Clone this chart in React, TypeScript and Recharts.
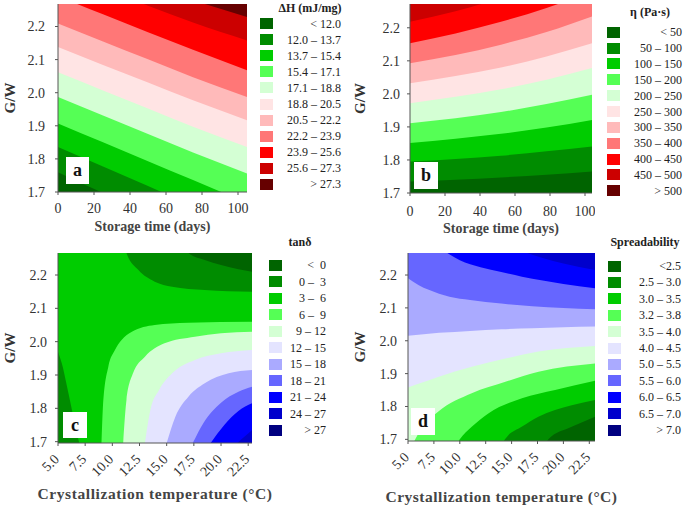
import React from 'react';
import { ComposedChart, Area, XAxis, YAxis, CartesianGrid } from 'recharts';

const serif = '"Liberation Serif", "Times New Roman", serif';

// colour classes, lowest class first
const redScale = ['#006400', '#008c00', '#00cc00', '#55ff55', '#d4ffd4', '#ffe4e4', '#ffbaba', '#ff7777', '#ff0000', '#cc0000', '#660000'];
const blueScale = ['#006400', '#008c00', '#00cc00', '#55ff55', '#d4ffd4', '#e4e4ff', '#aaaaff', '#6666ff', '#0000ff', '#0000cc', '#000080'];

const gwTicks = [1.7, 1.8, 1.9, 2.0, 2.1, 2.2];
const dayTicks = [0, 20, 40, 60, 80, 100];
const tempTicks = [5, 7.5, 10, 12.5, 15, 17.5, 20, 22.5];

// (a) ΔH – contour lines, G/W read at each storage day
const dhLabels = ['< 12.0', '12.0 – 13.7', '13.7 – 15.4', '15.4 – 17.1', '17.1 – 18.8', '18.8 – 20.5', '20.5 – 22.2', '22.2 – 23.9', '23.9 – 25.6', '25.6 – 27.3', '> 27.3'];
const dhDays = [0, 25, 50, 75, 105];
const dh120 = [1.760, 1.697, 1.635, 1.572, 1.497];
const dh137 = [1.836, 1.777, 1.718, 1.659, 1.600];
const dh154 = [1.907, 1.850, 1.793, 1.736, 1.667];
const dh171 = [1.987, 1.931, 1.875, 1.819, 1.756];
const dh188 = [2.062, 2.007, 1.952, 1.897, 1.836];
const dh205 = [2.138, 2.084, 2.031, 1.977, 1.917];
const dh222 = [2.209, 2.155, 2.101, 2.047, 1.987];
const dh239 = [2.291, 2.237, 2.183, 2.130, 2.068];
const dh256 = [2.365, 2.314, 2.263, 2.212, 2.158];
const dh273 = [2.430, 2.380, 2.330, 2.280, 2.229];

// (b) viscosity
const etaLabels = ['< 50', '50 – 100', '100 – 150', '150 – 200', '200 – 250', '250 – 300', '300 – 350', '350 – 400', '400 – 450', '450 – 500', '> 500'];
const etaDays = [0, 26, 52, 78, 104];
const eta50 = [1.735, 1.740, 1.747, 1.755, 1.765];
const eta100 = [1.795, 1.803, 1.813, 1.826, 1.841];
const eta150 = [1.851, 1.864, 1.879, 1.898, 1.921];
const eta200 = [1.911, 1.926, 1.945, 1.969, 1.997];
const eta250 = [1.972, 1.991, 2.014, 2.043, 2.078];
const eta300 = [2.032, 2.054, 2.080, 2.113, 2.153];
const eta350 = [2.093, 2.118, 2.149, 2.187, 2.234];
const eta400 = [2.153, 2.183, 2.218, 2.260, 2.310];
const eta450 = [2.218, 2.250, 2.290, 2.335, 2.380];

// (c) tan δ – each contour has its own temperatures
const tanLabels = ['<  0', '0 –  3', '3 –  6', '6 –  9', '9 – 12', '12 – 15', '15 – 18', '18 – 21', '21 – 24', '24 – 27', '> 27'];
const tan3LowT = [5.0, 5.35, 5.8, 6.25, 6.7, 7.0, 7.3];
const tan3LowG = [1.97, 1.935, 1.87, 1.80, 1.73, 1.69, 1.64];
const tan6T = [9.0, 9.17, 9.63, 10.24, 10.85, 11.8, 13.9, 17.0, 22.85];
const tan6G = [1.696, 1.825, 1.925, 1.975, 2.005, 2.03, 2.05, 2.057, 2.06];
const tan9T = [11.0, 11.3, 11.9, 13.0, 14.8, 17.6, 20.0, 22.85];
const tan9G = [1.696, 1.825, 1.905, 1.955, 1.995, 2.015, 2.025, 2.03];
const tan12T = [13.0, 13.5, 14.3, 15.5, 17.6, 20.0, 22.85];
const tan12G = [1.696, 1.795, 1.855, 1.905, 1.945, 1.965, 1.975];
const tan15T = [15.0, 15.8, 17.0, 18.5, 20.7, 22.85];
const tan15G = [1.696, 1.775, 1.835, 1.875, 1.905, 1.915];
const tan18T = [17.4, 18.4, 20.0, 21.6, 22.85];
const tan18G = [1.696, 1.757, 1.817, 1.850, 1.865];
const tan21T = [19.05, 20.3, 21.6, 22.85];
const tan21G = [1.696, 1.750, 1.792, 1.815];
const tan24T = [21.5, 22.2, 22.85];
const tan24G = [1.696, 1.716, 1.735];
const tan3HighT = [11.0, 11.3, 12.4, 13.9, 15.5, 18.5, 22.85];
const tan3HighG = [2.30, 2.266, 2.215, 2.18, 2.165, 2.155, 2.15];
const tan0T = [16.7, 17.0, 18.5, 20.0, 21.6, 22.85];
const tan0G = [2.29, 2.266, 2.245, 2.23, 2.217, 2.21];

// (d) spreadability
const spLabels = ['<2.5', '2.5 – 3.0', '3.0 – 3.5', '3.2 – 3.8', '3.5 – 4.0', '4.0 – 4.5', '5.0 – 5.5', '5.5 – 6.0', '6.0 – 6.5', '6.5 – 7.0', '> 7.0'];
const sp65T = [15.5, 16.5, 18.0, 20.0, 23.05];
const sp65G = [2.28, 2.267, 2.252, 2.235, 2.215];
const sp60T = [8.0, 8.8, 10.0, 12.0, 14.0, 16.0, 18.0, 20.0, 23.05];
const sp60G = [2.285, 2.267, 2.245, 2.224, 2.209, 2.195, 2.183, 2.173, 2.16];
const sp55T = [5.0, 6.0, 7.0, 9.0, 11.0, 14.0, 17.0, 20.0, 23.05];
const sp55G = [2.19, 2.17, 2.155, 2.134, 2.124, 2.113, 2.105, 2.10, 2.096];
const sp50T = [5.0, 8.0, 11.0, 14.0, 17.0, 20.0, 23.05];
const sp50G = [2.015, 2.024, 2.030, 2.035, 2.038, 2.041, 2.043];
const sp40T = [5.0, 6.3, 7.9, 11.15, 14.4, 17.6, 23.05];
const sp40G = [1.858, 1.872, 1.89, 1.921, 1.946, 1.967, 1.984];
const sp38T = [5.0, 5.7, 6.6, 7.9, 11.15, 14.4, 17.6, 23.05];
const sp38G = [1.65, 1.70, 1.745, 1.784, 1.84, 1.875, 1.906, 1.931];
const sp35T = [9.6, 10.0, 11.15, 12.75, 16.0, 19.2, 23.05];
const sp35G = [1.68, 1.70, 1.738, 1.779, 1.825, 1.85, 1.878];
const sp30T = [14.0, 14.36, 15.97, 17.58, 20.8, 23.05];
const sp30G = [1.68, 1.70, 1.738, 1.769, 1.804, 1.82];
const sp25T = [18.2, 18.55, 20.8, 23.05];
const sp25G = [1.68, 1.70, 1.738, 1.769];

type Contour = { xs: number[]; ys: number[]; fill: string; up?: boolean };

const dhContours: Contour[] = [dh120, dh137, dh154, dh171, dh188, dh205, dh222, dh239, dh256, dh273]
  .map((ys, i) => ({ xs: dhDays, ys, fill: redScale[i + 1], up: true }));
const etaContours: Contour[] = [eta50, eta100, eta150, eta200, eta250, eta300, eta350, eta400, eta450]
  .map((ys, i) => ({ xs: etaDays, ys, fill: redScale[i + 1], up: true }));
const tanContours: Contour[] = [
  { xs: tan3LowT, ys: tan3LowG, fill: blueScale[1] },
  { xs: tan6T, ys: tan6G, fill: blueScale[3] },
  { xs: tan9T, ys: tan9G, fill: blueScale[4] },
  { xs: tan12T, ys: tan12G, fill: blueScale[5] },
  { xs: tan15T, ys: tan15G, fill: blueScale[6] },
  { xs: tan18T, ys: tan18G, fill: blueScale[7] },
  { xs: tan21T, ys: tan21G, fill: blueScale[8] },
  { xs: tan24T, ys: tan24G, fill: blueScale[9] },
  { xs: tan3HighT, ys: tan3HighG, fill: blueScale[1], up: true },
  { xs: tan0T, ys: tan0G, fill: blueScale[0], up: true },
];
const spContours: Contour[] = [
  { xs: sp50T, ys: sp50G, fill: blueScale[6], up: true },
  { xs: sp55T, ys: sp55G, fill: blueScale[7], up: true },
  { xs: sp60T, ys: sp60G, fill: blueScale[8], up: true },
  { xs: sp65T, ys: sp65G, fill: blueScale[9], up: true },
  { xs: sp40T, ys: sp40G, fill: blueScale[4] },
  { xs: sp38T, ys: sp38G, fill: blueScale[3] },
  { xs: sp35T, ys: sp35G, fill: blueScale[2] },
  { xs: sp30T, ys: sp30G, fill: blueScale[1] },
  { xs: sp25T, ys: sp25G, fill: blueScale[0] },
];

const tickStyle = { fontFamily: serif, fontSize: 14, fill: '#333' };
const titleStyle = { fontFamily: serif, fontWeight: 'bold', fill: '#444', textAnchor: 'middle' } as any;

function SlantTick(props: any) {
  const { x, y, payload } = props;
  return (
    <g transform={`translate(${x - 1.5},${y + 8.5})`}>
      <text textAnchor="end" transform="rotate(-45)" dy="0.35em" style={tickStyle}>
        {Number(payload.value).toFixed(1)}
      </text>
    </g>
  );
}

function Panel(p: any) {
  const axisLine = { stroke: '#555' };
  return (
    <div style={{ position: 'absolute', left: p.left, top: p.top }}>
      <ComposedChart width={p.width} height={p.height} margin={{ top: 4, right: p.right ?? 3, left: 0, bottom: 0 }}>
        <CartesianGrid horizontal={false} vertical={false} fill={p.ground} fillOpacity={1} />
        {p.contours.map((c: Contour, i: number) => (
          <Area
            key={i}
            data={c.xs.map((x, j) => ({ x, y: c.ys[j] }))}
            dataKey="y"
            type="monotone"
            fill={c.fill}
            fillOpacity={1}
            stroke="none"
            {...(c.up ? { baseValue: 'dataMax' } : {})}
            dot={false}
            activeDot={false}
            isAnimationActive={false}
          />
        ))}
        <XAxis
          type="number" dataKey="x" domain={p.xDomain} allowDataOverflow ticks={p.xTicks} interval={0}
          height={p.xAxisHeight} axisLine={axisLine} tickLine={{ stroke: '#555' }} tickSize={3}
          tickMargin={p.slant ? 2 : p.xTickMargin}
          tick={p.slant ? <SlantTick /> : tickStyle}
          label={{ value: p.xTitle, position: 'insideBottom', offset: p.titleOffset, style: { ...titleStyle, fontSize: p.titleSize, letterSpacing: p.titleSpacing ?? 0 } }}
        />
        <XAxis xAxisId="top" orientation="top" type="number" domain={p.xDomain} allowDataOverflow height={0} tick={false} tickLine={false} axisLine={axisLine} />
        <YAxis
          type="number" domain={p.yDomain} allowDataOverflow ticks={gwTicks} interval={0} width={58}
          axisLine={axisLine} tickLine={{ stroke: '#555' }} tickSize={3} tickMargin={p.yTickMargin}
          tick={tickStyle} tickFormatter={(v: number) => v.toFixed(1)}
          label={{ value: 'G/W', angle: -90, position: 'insideLeft', offset: p.gwOffset, style: { ...titleStyle, fill: '#333', fontSize: 15 } }}
        />
        <YAxis yAxisId="right" orientation="right" type="number" domain={p.yDomain} allowDataOverflow width={0} tick={false} tickLine={false} axisLine={axisLine} />
      </ComposedChart>
    </div>
  );
}

function Key(p: any) {
  return (
    <>
      <div style={{ position: 'absolute', left: p.titleX - 60, top: p.titleY - 8, width: 120, textAlign: 'center', fontFamily: serif, fontWeight: 'bold', fontSize: 12, lineHeight: '16px', color: '#222' }}>
        {p.title}
      </div>
      {p.labels.map((lab: string, i: number) => {
        const cy = p.firstY + i * p.step;
        return (
          <React.Fragment key={i}>
            <div style={{ position: 'absolute', left: p.swatchX, top: cy - 5.5, width: 13, height: 11, background: p.colours[i] }} />
            <div style={{ position: 'absolute', left: p.textRight - 80, top: cy - 8, width: 80, textAlign: 'right', fontFamily: serif, fontSize: 12, lineHeight: '16px', color: '#222', whiteSpace: 'pre' }}>
              {lab}
            </div>
          </React.Fragment>
        );
      })}
    </>
  );
}

function Tag({ left, top, w, h, text }: any) {
  return (
    <div style={{ position: 'absolute', left, top, width: w, height: h, background: '#fff', fontFamily: serif, fontWeight: 'bold', fontSize: 18, lineHeight: `${h}px`, textAlign: 'center', color: '#111' }}>
      {text}
    </div>
  );
}

export default function App() {
  return (
    <div style={{ position: 'absolute', left: 0, top: 0, width: 685, height: 506, background: '#fff', overflow: 'hidden' }}>
      <Panel left={0} top={0} width={250} height={240} xAxisHeight={48} xDomain={[0, 105]} yDomain={[1.7, 2.268]}
        xTicks={dayTicks} ground={redScale[0]} contours={dhContours} xTitle="Storage time (days)" titleSize={14}
        titleOffset={9} gwOffset={10} yTickMargin={10} xTickMargin={8} />
      <Panel left={352} top={0} width={243} height={241} xAxisHeight={48} xDomain={[0, 104]} yDomain={[1.7, 2.272]}
        xTicks={dayTicks} ground={redScale[0]} contours={etaContours} xTitle="Storage time (days)" titleSize={14}
        titleOffset={8} gwOffset={8} yTickMargin={7} xTickMargin={10} />
      <Panel left={0} top={249} width={290} right={38} height={257} xAxisHeight={63} xDomain={[5, 22.85]} yDomain={[1.696, 2.266]}
        xTicks={tempTicks} slant ground={blueScale[2]} contours={tanContours} xTitle="Crystallization temperature (°C)" titleSize={15.5}
        titleSpacing={0.6} titleOffset={7} gwOffset={10} yTickMargin={8} />
      <Panel left={350} top={249} width={290} right={45} height={257} xAxisHeight={65} xDomain={[5, 23.05]} yDomain={[1.695, 2.267]}
        xTicks={tempTicks} slant ground={blueScale[5]} contours={spContours} xTitle="Crystallization temperature (°C)" titleSize={15.5}
        titleSpacing={0.5} titleOffset={4} gwOffset={10} yTickMargin={8} />

      <Tag left={66} top={157} w={23} h={27} text="a" />
      <Tag left={414} top={162} w={24} h={27} text="b" />
      <Tag left={63} top={412} w={24} h={26} text="c" />
      <Tag left={411} top={408} w={24} h={27} text="d" />

      <Key title="ΔH (mJ/mg)" titleX={310} titleY={8} labels={dhLabels} colours={redScale} swatchX={260} firstY={23.7} step={16.06} textRight={341} />
      <Key title="η (Pa·s)" titleX={650} titleY={12} labels={etaLabels} colours={redScale} swatchX={607} firstY={32.3} step={15.84} textRight={682} />
      <Key title="tanδ" titleX={300} titleY={242} labels={tanLabels} colours={blueScale} swatchX={269} firstY={265} step={16.5} textRight={326} />
      <Key title="Spreadability" titleX={645} titleY={242} labels={spLabels} colours={blueScale} swatchX={608} firstY={266} step={16.4} textRight={681} />
    </div>
  );
}
